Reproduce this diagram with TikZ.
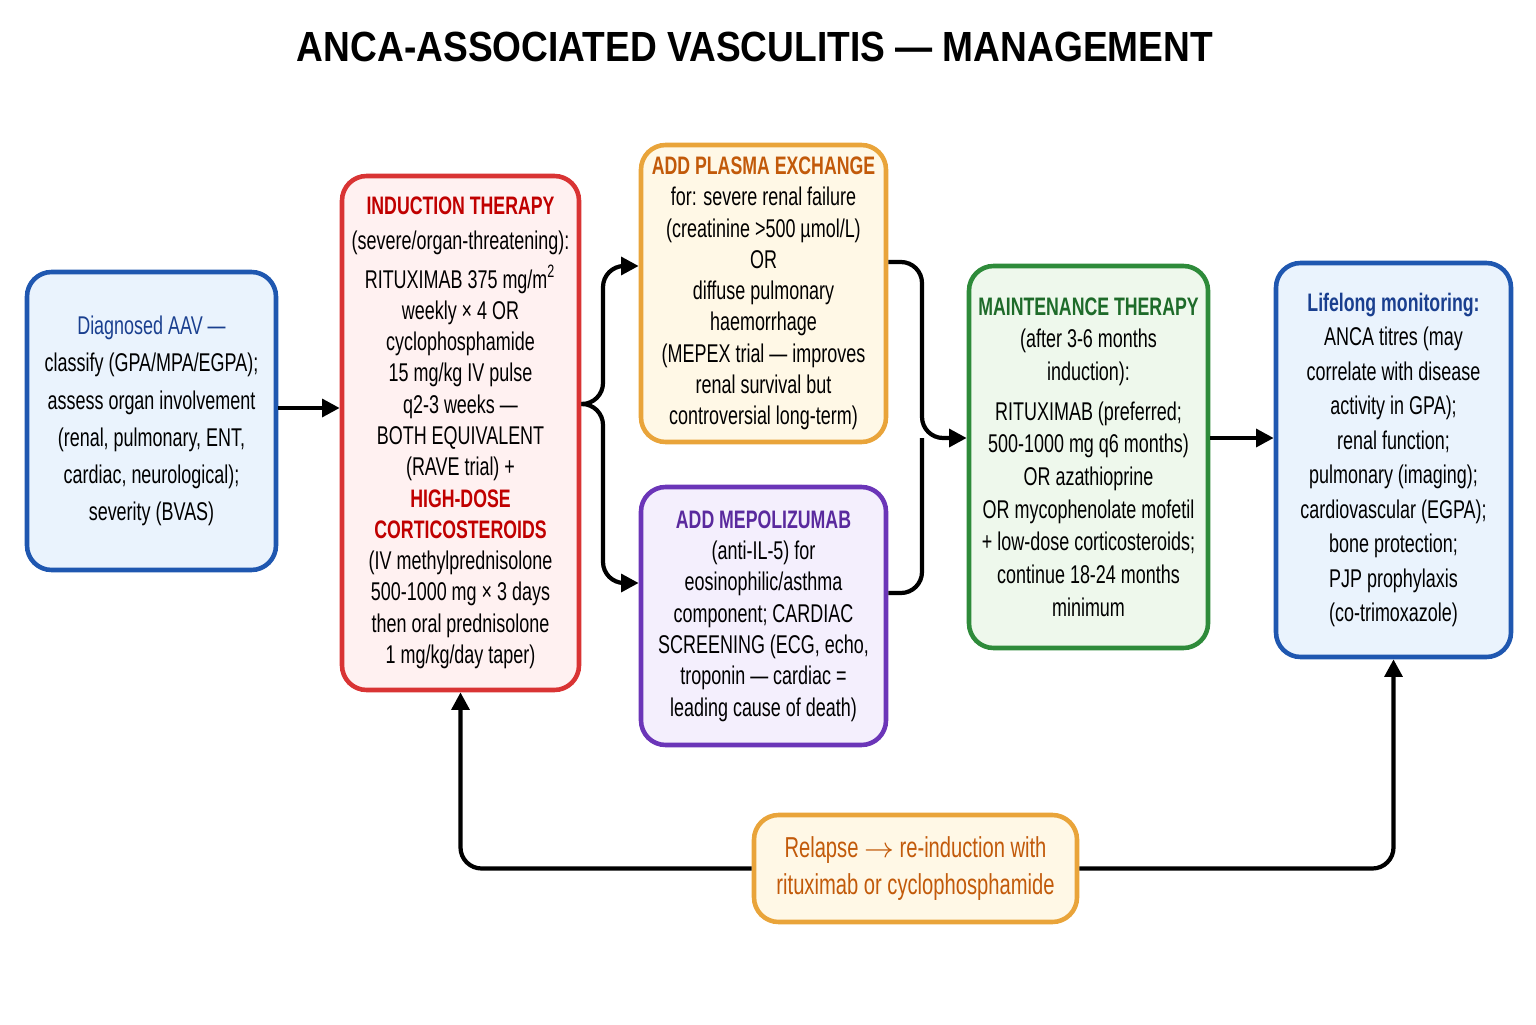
\documentclass[tikz,border=0pt]{standalone}
\usepackage{fontspec}
\setmainfont{Liberation Sans}[FakeStretch=0.7]
\newfontfamily\titlefont{Liberation Sans}[FakeStretch=0.88]
\usetikzlibrary{arrows.meta,positioning}
\definecolor{blueln}{HTML}{1F57B0}\definecolor{bluefl}{HTML}{EAF3FD}\definecolor{bluetx}{HTML}{1A3F8F}
\definecolor{redln}{HTML}{D93434}\definecolor{redfl}{HTML}{FFF1F1}\definecolor{redtx}{HTML}{C00000}
\definecolor{orgln}{HTML}{E9A43A}\definecolor{orgfl}{HTML}{FFF8E6}\definecolor{orgtx}{HTML}{C25A0A}
\definecolor{purln}{HTML}{6B35B8}\definecolor{purfl}{HTML}{F4EFFD}\definecolor{purtx}{HTML}{5A2A9E}
\definecolor{grnln}{HTML}{2E8B3A}\definecolor{grnfl}{HTML}{EEF8EC}\definecolor{grntx}{HTML}{1E6B2A}
\newcommand\hd[2]{\textcolor{#1}{\bfseries\fontsize{7.2}{8.9}\selectfont #2}}
\tikzset{
  step/.style={draw=#1ln,fill=#1fl,line width=1.3pt,rounded corners=7pt,align=center,
    inner sep=1pt,font=\fontsize{7.3}{8.9}\selectfont},
  link/.style={-{Triangle[length=5pt,width=5pt]},line width=1.2pt,rounded corners=6pt},
}
\begin{document}
\begin{tikzpicture}
\useasboundingbox (0,0) rectangle (15.36,10.24);
\node[font=\titlefont\bfseries\fontsize{12}{14}\selectfont] (title) at (7.55,9.77) {ANCA-ASSOCIATED VASCULITIS — MANAGEMENT};
% boxes
\node[step=blue,minimum width=2.49cm,minimum height=2.98cm,font=\fontsize{7.3}{10.6}\selectfont] (diag) at (1.515,6.03)
  {\textcolor{bluetx}{Diagnosed AAV —}\\classify (GPA/MPA/EGPA);\\assess organ involvement\\(renal, pulmonary, ENT,\\cardiac, neurological);\\severity (BVAS)};
\node[step=red,minimum width=2.37cm,minimum height=5.14cm] (induct) at (4.605,5.91)
  {\hd{redtx}{INDUCTION THERAPY}\\[1pt](severe/organ-threatening):\\[2pt]RITUXIMAB 375 mg/m\textsuperscript{2}\\weekly × 4 OR\\cyclophosphamide\\15 mg/kg IV pulse\\q2-3 weeks —\\BOTH EQUIVALENT\\(RAVE trial) +\\\hd{redtx}{HIGH-DOSE}\\\hd{redtx}{CORTICOSTEROIDS}\\(IV methylprednisolone\\500-1000 mg × 3 days\\then oral prednisolone\\1 mg/kg/day taper)};
\node[step=org,minimum width=2.45cm,minimum height=2.97cm] (plasma) at (7.635,7.305)
  {\hd{orgtx}{ADD PLASMA EXCHANGE}\\for: severe renal failure\\(creatinine >500 µmol/L)\\OR\\diffuse pulmonary\\haemorrhage\\(MEPEX trial — improves\\renal survival but\\controversial long-term)};
\node[step=pur,minimum width=2.45cm,minimum height=2.58cm] (mepol) at (7.635,4.08)
  {\hd{purtx}{ADD MEPOLIZUMAB}\\(anti-IL-5) for\\eosinophilic/asthma\\component; CARDIAC\\SCREENING (ECG, echo,\\troponin — cardiac =\\leading cause of death)};
\node[step=grn,minimum width=2.39cm,minimum height=3.82cm,font=\fontsize{7.3}{9.3}\selectfont] (maint) at (10.885,5.67)
  {\hd{grntx}{MAINTENANCE THERAPY}\\(after 3-6 months\\induction):\\[2pt]RITUXIMAB (preferred;\\500-1000 mg q6 months)\\OR azathioprine\\OR mycophenolate mofetil\\+ low-dose corticosteroids;\\continue 18-24 months\\minimum};
\node[step=blue,minimum width=2.35cm,minimum height=3.94cm,font=\fontsize{7.3}{9.8}\selectfont] (monitor) at (13.935,5.64)
  {\hd{bluetx}{Lifelong monitoring:}\\ANCA titres (may\\correlate with disease\\activity in GPA);\\renal function;\\pulmonary (imaging);\\cardiovascular (EGPA);\\bone protection;\\PJP prophylaxis\\(co-trimoxazole)};
\node[step=org,minimum width=3.23cm,minimum height=1.07cm,font=\fontsize{8.2}{10.5}\selectfont] (relapse) at (9.155,1.555)
  {\textcolor{orgtx}{Relapse $\rightarrow$ re-induction with}\\\textcolor{orgtx}{rituximab or cyclophosphamide}};
% connectors
\coordinate (fork) at (6.03,6.2);
\coordinate (join) at (9.22,5.86);
\draw[link] (diag.east |- 0,6.16) -- (induct.west |- 0,6.16);
\draw[link] (induct.east |- fork) -- (fork) |- (plasma.west |- 0,7.58);
\draw[link] (induct.east |- fork) -- (fork) |- (mepol.west |- 0,4.41);
\draw[link] (plasma.east |- 0,7.62) -| (join) -- (maint.west |- join);
\draw[line width=1.2pt,rounded corners=6pt] (mepol.east |- 0,4.31) -| (join);
\draw[link] (maint.east |- join) -- (monitor.west |- join);
\draw[link] (relapse.west) -| (induct.south);
\draw[link] (relapse.east) -| (monitor.south);
\end{tikzpicture}
\end{document}
